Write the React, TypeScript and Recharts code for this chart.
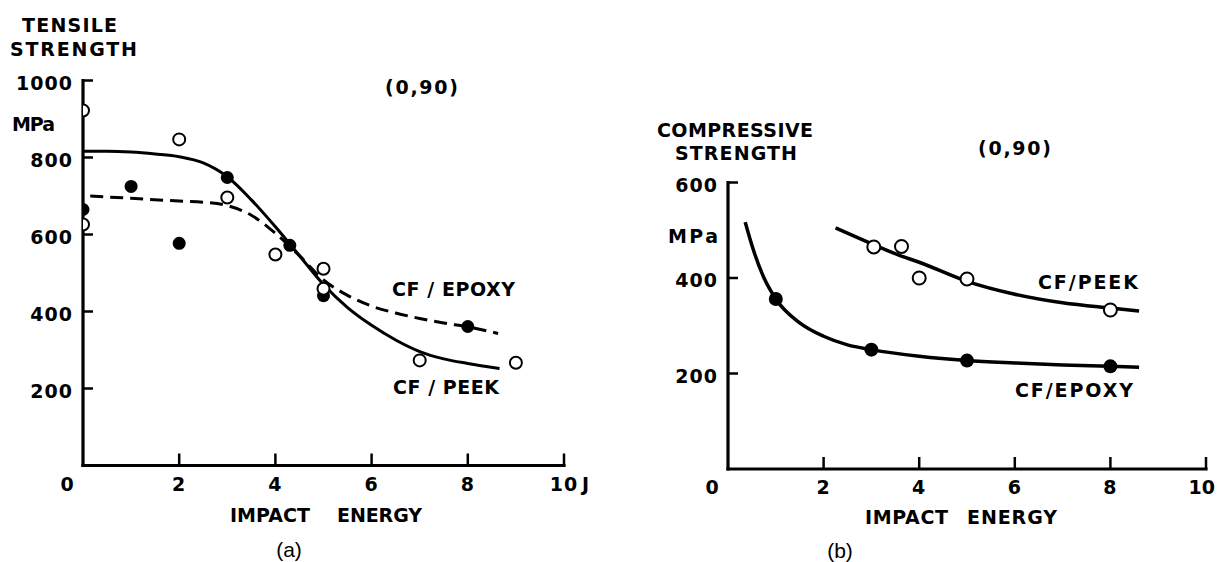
import { ComposedChart, XAxis, YAxis, Line, Scatter } from 'recharts';

type Pt = [number, number];

// (a) tensile strength (MPa) vs impact energy (J), (0,90) lay-up
const tensilePeekPts: Pt[] = [[0, 922], [0, 626], [2, 847], [3, 696], [4, 548], [5, 511], [5, 459], [7, 273], [9, 267]];
const tensileEpoxyPts: Pt[] = [[0, 665], [1, 725], [2, 577], [3, 748], [4.3, 572], [5, 441], [8, 361]];
const tensilePeekCurve: Pt[] = [
  [0, 816], [0.5, 816], [1, 814], [1.5, 809], [2, 802], [2.5, 786], [3, 750], [3.5, 690], [4, 620],
  [4.5, 545], [5, 470], [5.5, 410], [6, 364], [6.5, 326], [7, 296], [7.5, 277], [8, 265], [8.66, 252],
];
const tensileEpoxyCurve: Pt[] = [
  [0.15, 700], [1, 694], [2, 687], [2.5, 684], [3, 675], [3.5, 650], [4, 603], [4.5, 545], [5, 482],
  [5.5, 442], [6, 414], [6.5, 396], [7, 382], [7.5, 370], [8, 360], [8.63, 343],
];

// (b) compressive strength (MPa) vs impact energy (J)
const compPeekPts: Pt[] = [[3.05, 465], [3.63, 466], [4, 400], [5, 398], [8, 333]];
const compEpoxyPts: Pt[] = [[1, 356], [3, 250], [5, 227], [8, 215]];
const compPeekCurve: Pt[] = [[2.25, 505], [3, 472], [3.6, 447], [4, 433], [5, 393], [6, 366], [7, 348], [8, 337], [8.6, 331]];
const compEpoxyCurve: Pt[] = [
  [0.36, 517], [0.53, 459], [0.74, 403], [1, 356], [1.5, 306], [2, 278], [2.5, 260], [3, 250],
  [4, 236], [5, 227], [6, 222], [7, 218], [8, 215], [8.6, 213],
];

const energyTicks = [0, 2, 4, 6, 8, 10];
const tensileTicks = [200, 400, 600, 800, 1000];
const compTicks = [200, 400, 600];

const toXY = (pts: Pt[]) => pts.map(([x, y]) => ({ x, y }));

const INK = '#000';
const LETTERING = {
  fontFamily: '"DejaVu Sans", sans-serif',
  fontWeight: 700,
  fontSize: 19,
  fill: INK,
};

function YTick(props: any) {
  const { x, y, payload } = props;
  return (
    <g>
      <line x1={x} y1={y} x2={x + 10} y2={y} stroke={INK} strokeWidth={2.5} />
      <text x={x - 10} y={y + 2} textAnchor="end" dominantBaseline="central" style={{ ...LETTERING, letterSpacing: 1 }}>
        {payload.value}
      </text>
    </g>
  );
}

// unit: text after the last tick label; atEdge: right-align the last label so it stays on the page
const makeXTick = (unit?: string, atEdge?: boolean) =>
  function XTick(props: any) {
    const { x, y, payload } = props;
    const v = payload.value;
    if (v === 0) {
      return (
        <text x={x - 16} y={y + 18} textAnchor="middle" dominantBaseline="central" style={LETTERING}>
          0
        </text>
      );
    }
    const last = v === 10;
    return (
      <g>
        <line x1={x} y1={y} x2={x} y2={y - 12} stroke={INK} strokeWidth={2.5} />
        <text
          x={last && atEdge ? x + 9 : x}
          y={y + 18}
          textAnchor={last && atEdge ? 'end' : 'middle'}
          dominantBaseline="central"
          style={{ ...LETTERING, letterSpacing: last && atEdge ? 0 : 1 }}
        >
          {v}
        </text>
        {unit && last ? (
          <text x={x + 18} y={y + 18} dominantBaseline="central" style={LETTERING}>
            {unit}
          </text>
        ) : null}
      </g>
    );
  };

const openDot = (r: number) => (p: any) => (
  <circle cx={p.cx} cy={p.cy} r={r} fill="#fff" stroke={INK} strokeWidth={2} />
);
const fullDot = (r: number) => (p: any) => <circle cx={p.cx} cy={p.cy} r={r} fill={INK} />;

const axisLine = { stroke: INK, strokeWidth: 3.2, strokeLinecap: 'square' as const };

// annotation text: left x, centre y, width
const notes = [
  { t: 'TENSILE', x: 22, y: 25, w: 95 },
  { t: 'STRENGTH', x: 10, y: 49, w: 127 },
  { t: 'MPa', x: 12, y: 124, w: 43 },
  { t: '(0,90)', x: 385, y: 87, w: 73 },
  { t: 'CF / EPOXY', x: 392, y: 289, w: 123 },
  { t: 'CF / PEEK', x: 393, y: 387, w: 106 },
  { t: 'IMPACT', x: 230, y: 515, w: 80 },
  { t: 'ENERGY', x: 337, y: 515, w: 85 },
  { t: 'COMPRESSIVE', x: 657, y: 130, w: 156 },
  { t: 'STRENGTH', x: 675, y: 153, w: 122 },
  { t: 'MPa', x: 668, y: 236, w: 50 },
  { t: '(0,90)', x: 978, y: 148, w: 73 },
  { t: 'CF/PEEK', x: 1038, y: 282, w: 100 },
  { t: 'CF/EPOXY', x: 1015, y: 390, w: 118 },
  { t: 'IMPACT', x: 865, y: 517, w: 83 },
  { t: 'ENERGY', x: 967, y: 517, w: 90 },
];

export default function App() {
  return (
    <div style={{ position: 'absolute', left: 0, top: 0, width: 1217, height: 562, background: '#fff' }}>
      <div style={{ position: 'absolute', left: 0, top: 0 }}>
        <ComposedChart width={608} height={562} margin={{ top: 80.5, right: 44, bottom: 95.5, left: 82 }}>
          <XAxis
            type="number"
            dataKey="x"
            domain={[0, 10]}
            allowDataOverflow
            ticks={energyTicks}
            interval={0}
            height={1}
            tickSize={0}
            tickMargin={0}
            tickLine={false}
            axisLine={axisLine}
            tick={makeXTick('J')}
          />
          <YAxis
            type="number"
            dataKey="y"
            domain={[0, 1000]}
            allowDataOverflow
            ticks={tensileTicks}
            interval={0}
            width={1}
            tickSize={0}
            tickMargin={0}
            tickLine={false}
            axisLine={axisLine}
            tick={YTick}
          />
          <Line data={toXY(tensilePeekCurve)} dataKey="y" type="monotone" stroke={INK} strokeWidth={3} dot={false} activeDot={false} isAnimationActive={false} />
          <Line data={toXY(tensileEpoxyCurve)} dataKey="y" type="monotone" stroke={INK} strokeWidth={3} strokeDasharray="13 7" dot={false} activeDot={false} isAnimationActive={false} />
          <Scatter data={toXY(tensileEpoxyPts)} dataKey="y" shape={fullDot(6.5)} isAnimationActive={false} />
          <Scatter data={toXY(tensilePeekPts)} dataKey="y" shape={openDot(6)} isAnimationActive={false} />
        </ComposedChart>
      </div>

      <div style={{ position: 'absolute', left: 608, top: 0 }}>
        <ComposedChart width={609} height={562} margin={{ top: 182.5, right: 11, bottom: 92, left: 119 }}>
          <XAxis
            type="number"
            dataKey="x"
            domain={[0, 10]}
            allowDataOverflow
            ticks={energyTicks}
            interval={0}
            height={1}
            tickSize={0}
            tickMargin={0}
            tickLine={false}
            axisLine={axisLine}
            tick={makeXTick(undefined, true)}
          />
          <YAxis
            type="number"
            dataKey="y"
            domain={[0, 600]}
            allowDataOverflow
            ticks={compTicks}
            interval={0}
            width={1}
            tickSize={0}
            tickMargin={0}
            tickLine={false}
            axisLine={axisLine}
            tick={YTick}
          />
          <Line data={toXY(compPeekCurve)} dataKey="y" type="monotone" stroke={INK} strokeWidth={3.5} dot={false} activeDot={false} isAnimationActive={false} />
          <Line data={toXY(compEpoxyCurve)} dataKey="y" type="monotone" stroke={INK} strokeWidth={3.5} dot={false} activeDot={false} isAnimationActive={false} />
          <Scatter data={toXY(compEpoxyPts)} dataKey="y" shape={fullDot(7)} isAnimationActive={false} />
          <Scatter data={toXY(compPeekPts)} dataKey="y" shape={openDot(6.5)} isAnimationActive={false} />
        </ComposedChart>
      </div>

      <svg width={1217} height={562} style={{ position: 'absolute', left: 0, top: 0, pointerEvents: 'none' }}>
        {notes.map((n, i) => (
          <text key={i} x={n.x} y={n.y} textLength={n.w} lengthAdjust="spacing" dominantBaseline="central" style={LETTERING}>
            {n.t}
          </text>
        ))}
        <text x={289} y={549} textAnchor="middle" dominantBaseline="central" style={{ fontFamily: '"Liberation Sans", Arial, sans-serif', fontSize: 21, fill: INK }}>
          (a)
        </text>
        <text x={840} y={550} textAnchor="middle" dominantBaseline="central" style={{ fontFamily: '"Liberation Sans", Arial, sans-serif', fontSize: 21, fill: INK }}>
          (b)
        </text>
      </svg>
    </div>
  );
}
